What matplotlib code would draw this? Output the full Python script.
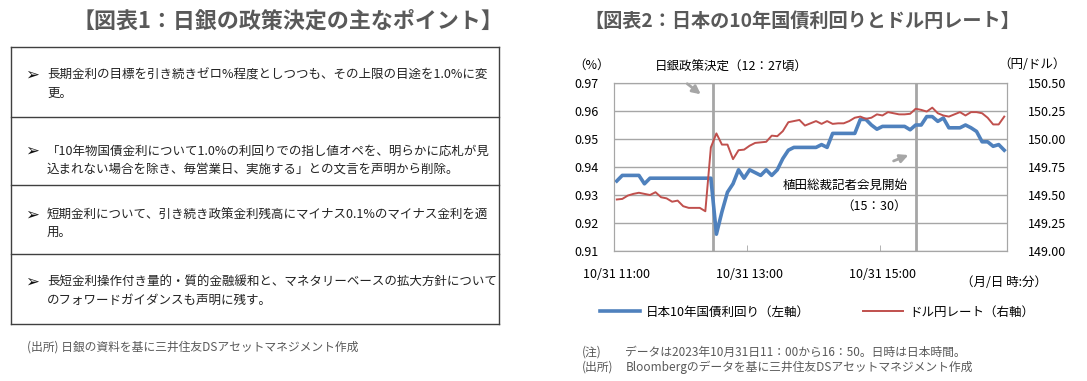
import numpy as np
import pandas as pd
import matplotlib
matplotlib.use("Agg")
import matplotlib.pyplot as plt
from matplotlib.ticker import MultipleLocator, FormatStrFormatter

plt.rcParams['font.family'] = ['Noto Sans CJK JP', 'DejaVu Sans']

# ---- data ----
times = pd.date_range("2023-10-31 11:00", "2023-10-31 16:50", freq="5min")

# 10y JGB yield (%) , 5 min
jgb10y = [0.935, 0.937, 0.937, 0.937, 0.937, 0.934, 0.936,
          0.936, 0.936, 0.936, 0.936, 0.936, 0.936, 0.936, 0.936, 0.936, 0.936, 0.936,
          0.916, 0.924, 0.931, 0.934, 0.939, 0.936, 0.939, 0.938, 0.937, 0.939,
          0.937, 0.939, 0.943, 0.946, 0.947, 0.947, 0.947, 0.947, 0.947, 0.948,
          0.947, 0.952, 0.952, 0.952, 0.952, 0.952, 0.957, 0.957, 0.955, 0.9535,
          0.9545, 0.9545, 0.9545, 0.9545, 0.9545, 0.9533, 0.955, 0.955, 0.958, 0.958,
          0.9563, 0.9575, 0.954, 0.954, 0.954, 0.955, 0.954, 0.9527, 0.949, 0.949,
          0.9474, 0.948, 0.946]

# USD/JPY
usdjpy = [149.46, 149.465, 149.495, 149.51, 149.52, 149.51, 149.50, 149.525,
          149.48, 149.47, 149.44, 149.45, 149.40, 149.385, 149.385, 149.385, 149.355,
          149.925, 150.05, 149.95, 149.95, 149.82, 149.90, 149.905, 149.94, 149.965,
          149.97, 149.975, 150.03, 150.025, 150.07, 150.15, 150.16, 150.17, 150.12,
          150.14, 150.16, 150.135, 150.16, 150.135, 150.14, 150.14, 150.16, 150.19,
          150.20, 150.18, 150.19, 150.22, 150.21, 150.24, 150.23, 150.22, 150.22,
          150.225, 150.27, 150.26, 150.245, 150.28, 150.23, 150.21, 150.20, 150.22,
          150.24, 150.21, 150.24, 150.24, 150.23, 150.19, 150.13, 150.13, 150.20]

xtick_times = ["2023-10-31 11:00", "2023-10-31 13:00", "2023-10-31 15:00"]
event_times = ["2023-10-31 12:27", "2023-10-31 15:30"]

points = [
    ["長期金利の目標を引き続きゼロ%程度としつつも、その上限の目途を1.0%に変",
     "更。"],
    ["「10年物国債金利について1.0%の利回りでの指し値オペを、明らかに応札が見",
     "込まれない場合を除き、毎営業日、実施する」との文言を声明から削除。"],
    ["短期金利について、引き続き政策金利残高にマイナス0.1%のマイナス金利を適",
     "用。"],
    ["長短金利操作付き量的・質的金融緩和と、マネタリーベースの拡大方針について",
     "のフォワードガイダンスも声明に残す。"],
]

W, H = 1087, 381
fig = plt.figure(figsize=(W / 100, H / 100), dpi=100)

# overlay in pixel coords for the text panel, notes and annotations
ov = fig.add_axes([0, 0, 1, 1])
ov.set_xlim(0, W)
ov.set_ylim(H, 0)
ov.axis('off')
ov.set_zorder(5)

title_c = '#595959'
ov.text(288, 21, "【図表1：日銀の政策決定の主なポイント】", ha='center', va='center',
        fontsize=15.8, fontweight='bold', color=title_c)
ov.text(802, 21, "【図表2：日本の10年国債利回りとドル円レート】", ha='center', va='center',
        fontsize=13.8, fontweight='bold', color=title_c)

# table of points
row_edges = [47, 117, 185, 254, 324]
line1_y = [75, 151, 215, 282]
for y in row_edges:
    ov.plot([11, 499], [y, y], color='#404040', lw=1)
ov.plot([11, 11], [row_edges[0], row_edges[-1]], color='#404040', lw=1)
ov.plot([499, 499], [row_edges[0], row_edges[-1]], color='#404040', lw=1)
for i, (l1, l2) in enumerate(points):
    y = line1_y[i]
    ov.text(25, y, "➢", family=['DejaVu Sans'], fontsize=12, fontweight='bold',
            ha='left', va='center', color='#111111')
    ov.text(47, y, l1, fontsize=9, ha='left', va='center', color='#222222')
    ov.text(47, y + 18, l2, fontsize=9, ha='left', va='center', color='#222222')

note_c = '#595959'
ov.text(27, 347, "(出所) 日銀の資料を基に三井住友DSアセットマネジメント作成", fontsize=8.5,
        ha='left', va='center', color=note_c)

# ---- chart ----
minutes = ((times - times[0]).total_seconds() / 60).to_numpy()
ev = [(pd.Timestamp(t) - times[0]).total_seconds() / 60 for t in event_times]
xt = [(pd.Timestamp(t) - times[0]).total_seconds() / 60 for t in xtick_times]
xt_labels = [pd.Timestamp(t).strftime("%m/%d %H:%M") for t in xtick_times]

ax = fig.add_axes([614 / W, 1 - 251 / H, (1007 - 614) / W, (251 - 83) / H])
ax.set_xlim(-2.5, 352.5)
ax.set_ylim(0.91, 0.97)
ax.yaxis.set_major_locator(MultipleLocator(0.01))
ax.yaxis.set_major_formatter(FormatStrFormatter('%.2f'))
ax.grid(axis='y', color='#a6a6a6', lw=1)
ax.set_axisbelow(True)
for e in ev:
    ax.axvline(e, color='#a6a6a6', lw=2, zorder=1)
ax.set_xticks(xt)
ax.set_xticklabels(xt_labels)
ax.set_xticks([v - 2.5 for v in xt[1:]], minor=True)
ax.tick_params(axis='x', which='major', length=0, pad=12, labelsize=9)
ax.tick_params(axis='x', which='minor', length=4, direction='in', color='#a6a6a6')
ax.tick_params(axis='y', length=0, pad=11, labelsize=9)
for s in ax.spines.values():
    s.set_color('#a6a6a6')

l1, = ax.plot(minutes, jgb10y, color='#4f81bd', lw=2.6, zorder=3,
              label="日本10年国債利回り（左軸）")

ax2 = ax.twinx()
ax2.set_ylim(149.0, 150.5)
ax2.yaxis.set_major_locator(MultipleLocator(0.25))
ax2.yaxis.set_major_formatter(FormatStrFormatter('%.2f'))
ax2.tick_params(axis='y', length=0, pad=15, labelsize=9)
for s in ax2.spines.values():
    s.set_color('#a6a6a6')
l2, = ax2.plot(minutes, usdjpy, color='#c0504d', lw=1.4, zorder=3,
               label="ドル円レート（右軸）")

# axis unit labels
ov.text(592, 65, "（%）", fontsize=9, ha='center', va='center')
ov.text(1032, 65, "（円/ドル）", fontsize=9, ha='center', va='center')
ov.text(1004, 283, "（月/日 時:分）", fontsize=9, ha='center', va='center')

# event annotations
ov.text(731, 67, "日銀政策決定（12：27頃）", fontsize=9, ha='center', va='center')
ov.annotate("", xy=(703, 96), xytext=(685, 82),
            arrowprops=dict(arrowstyle='-|>', color='#a6a6a6', lw=2, mutation_scale=12))
ov.text(845, 185, "植田総裁記者会見開始", fontsize=9, ha='center', va='center')
ov.text(874, 206, "（15：30）", fontsize=9, ha='center', va='center')
ov.annotate("", xy=(911, 154), xytext=(891, 162),
            arrowprops=dict(arrowstyle='-|>', color='#a6a6a6', lw=2, mutation_scale=12))

fig.legend(handles=[l1, l2], loc='center', bbox_to_anchor=(817 / W, 1 - 312 / H),
           ncol=2, frameon=False, fontsize=9, handlelength=3.2,
           handletextpad=0.5, columnspacing=4.2)

ov.text(582, 352, "(注)", fontsize=8.5, ha='left', va='center', color=note_c)
ov.text(625, 352, "データは2023年10月31日11：00から16：50。日時は日本時間。", fontsize=8.5,
        ha='left', va='center', color=note_c)
ov.text(582, 367, "(出所)", fontsize=8.5, ha='left', va='center', color=note_c)
ov.text(626, 367, "Bloombergのデータを基に三井住友DSアセットマネジメント作成", fontsize=8.5,
        ha='left', va='center', color=note_c)

fig.savefig("out.png", dpi=100)
